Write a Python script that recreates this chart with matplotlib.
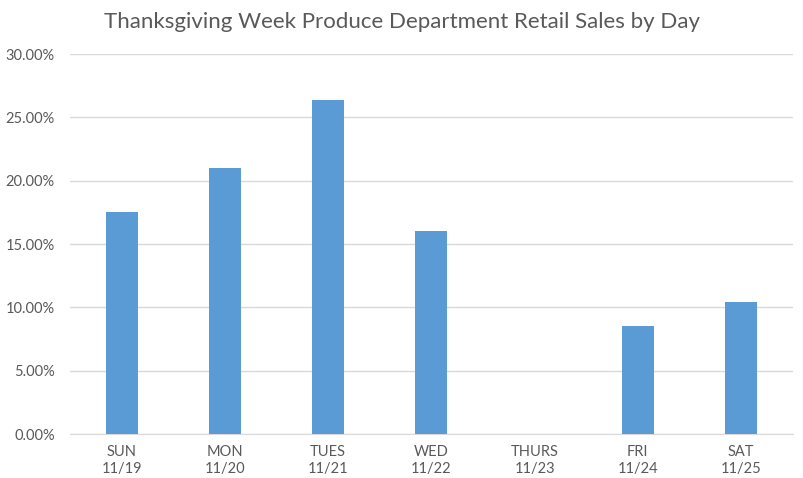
import matplotlib
matplotlib.use("Agg")
import matplotlib.pyplot as plt
from matplotlib.ticker import FuncFormatter, MultipleLocator

days = ["SUN\n11/19", "MON\n11/20", "TUES\n11/21", "WED\n11/22", "THURS\n11/23", "FRI\n11/24", "SAT\n11/25"]
sales_pct = [17.5, 21.0, 26.4, 16.0, 0.0, 8.5, 10.4]
title = "Thanksgiving Week Produce Department Retail Sales by Day"

plt.rcParams['font.family'] = ['Lato', 'DejaVu Sans']

fig = plt.figure(figsize=(8.04, 4.78), dpi=100)
ax = fig.add_axes([0.087, 0.092, 0.899, 0.795])
x = list(range(len(days)))
ax.bar(x, sales_pct, width=0.31, color="#5b9bd5", zorder=3)
ax.set_xlim(-0.5, len(days) - 0.5)
ax.set_ylim(0, 30)
ax.yaxis.set_major_locator(MultipleLocator(5))
ax.yaxis.set_major_formatter(FuncFormatter(lambda v, p: f"{v:.2f}%"))
ax.set_xticks(x)
ax.set_xticklabels(days, linespacing=1.25)
ax.grid(axis="y", color="#d9d9d9", linewidth=1, zorder=0)
for s in ["top", "right", "left"]:
    ax.spines[s].set_visible(False)
ax.spines["bottom"].set_color("#d9d9d9")
ax.tick_params(axis="both", length=0, colors="#595959", labelsize=10.5)
ax.tick_params(axis="x", pad=8)
ax.tick_params(axis="y", pad=11)
fig.text(0.5, 0.955, title, ha="center", va="center", fontsize=16, color="#595959")
fig.savefig("out.png", dpi=100)
